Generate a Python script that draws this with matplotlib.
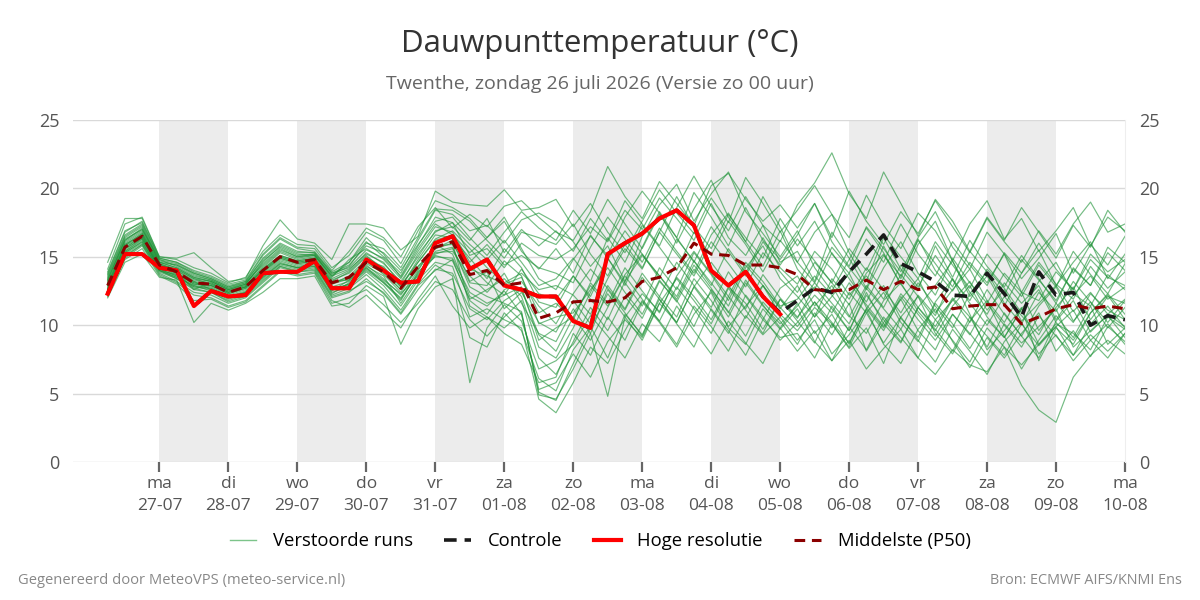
"""
plot.py

Dauwpunttemperatuur ensemble pluim voor Twenthe (ECMWF AIFS/KNMI Ens).
"""

import matplotlib
matplotlib.use("Agg")
import matplotlib.pyplot as plt
import pandas as pd

plt.rcParams["font.family"] = ["Open Sans", "DejaVu Sans"]

# Time axis: 6-hourly steps, first step 26-07 06:00
RUN_START = "2026-07-26 06:00"
N_STEPS = 60

# Hoge resolutie (ends on 05-08 00:00)
hres = [12.3, 15.2, 15.2, 14.2, 14.0, 11.4, 12.5, 12.1, 12.2, 13.8, 13.9, 13.9, 14.7,
        12.7, 12.7, 14.8, 14.0, 13.1, 13.2, 16.0, 16.5, 14.1, 14.8, 12.9, 12.6, 12.1, 12.1,
        10.3, 9.8, 15.2, 16.0, 16.7, 17.8, 18.4, 17.3, 14.0, 12.9, 13.9, 12.1, 10.8]

# Controle
control = [12.3, 15.2, 15.2, 14.2, 14.0, 11.4, 12.5, 12.1, 12.2, 13.8, 13.9, 13.9, 14.7,
           12.7, 12.7, 14.8, 14.0, 13.1, 13.2, 16.0, 16.5, 14.1, 14.8, 12.9, 12.6, 12.1, 12.1,
           10.3, 9.8, 15.2, 16.0, 16.7, 17.8, 18.4, 17.3, 14.0, 12.9, 13.9, 12.1, 10.9,
           11.8, 12.7, 12.4, 13.9, 15.2, 16.6, 14.5, 13.9, 13.2, 12.2, 12.1, 13.8, 12.3,
           10.6, 13.9, 12.2, 12.4, 10.0, 10.7, 10.4]

# Middelste (P50)
p50 = [12.9, 15.7, 16.5, 14.4, 13.9, 13.1, 13.0, 12.4, 12.8, 14.0, 15.0, 14.6, 14.8,
       13.1, 13.5, 14.6, 13.9, 12.7, 14.3, 15.7, 16.1, 13.7, 14.0, 12.9, 13.1, 10.5, 10.9,
       11.7, 11.8, 11.7, 12.0, 13.2, 13.5, 14.2, 16.0, 15.2, 15.1, 14.4, 14.4, 14.2,
       13.7, 12.6, 12.5, 12.6, 13.3, 12.6, 13.2, 12.6, 12.8, 11.2, 11.4, 11.5, 11.5,
       10.1, 10.6, 11.2, 11.5, 11.2, 11.4, 11.2]

# Verstoorde runs (ensemble members)
members = [
    [13.4, 16.2, 17.1, 14.6, 14.2, 13.5, 13.2, 12.6, 13.0, 14.6, 15.8, 15.2, 15.1,
     13.6, 14.1, 15.2, 14.6, 13.0, 15.2, 16.8, 17.5, 15.1, 15.6, 14.2, 16.0, 15.1, 14.8,
     15.6, 17.2, 16.1, 18.4, 17.0, 19.3, 17.8, 16.2, 18.9, 16.4, 15.1, 17.3, 14.6,
     15.4, 13.2, 16.8, 14.9, 12.7, 15.8, 13.4, 16.3, 14.0, 12.5, 14.6, 13.1, 15.2, 12.4, 11.8, 13.9, 12.6, 14.8, 13.5, 12.9],
    [12.5, 15.4, 16.2, 14.1, 13.6, 12.8, 12.7, 12.1, 12.5, 13.6, 14.6, 14.2, 14.5,
     12.6, 13.0, 14.1, 13.2, 11.9, 13.8, 15.4, 15.7, 12.8, 12.1, 11.6, 11.0, 4.9, 4.6,
     6.8, 9.4, 4.8, 10.6, 12.3, 11.0, 13.5, 12.1, 10.4, 12.8, 11.6, 9.7, 11.9,
     10.5, 12.8, 11.2, 9.6, 12.4, 10.1, 8.7, 11.3, 9.9, 12.0, 10.6, 8.4, 10.9, 9.2, 7.6, 10.3, 11.8, 9.5, 10.8, 9.9],
    [13.8, 16.8, 17.6, 14.9, 14.6, 13.9, 13.5, 12.9, 13.2, 15.1, 16.3, 15.6, 15.4,
     13.9, 14.6, 16.1, 15.0, 13.8, 16.2, 18.4, 18.1, 16.9, 17.3, 16.0, 17.7, 18.2, 17.5,
     16.1, 14.3, 15.8, 13.2, 16.5, 18.8, 20.3, 17.6, 19.6, 21.2, 18.3, 16.7, 15.0,
     16.9, 14.2, 12.5, 14.8, 17.1, 15.3, 13.0, 15.9, 17.6, 14.7, 12.1, 13.6, 11.4, 13.8, 15.5, 12.9, 14.6, 16.1, 13.4, 15.2],
    [12.3, 15.0, 15.9, 13.8, 13.2, 12.4, 12.2, 11.6, 12.0, 13.1, 14.2, 13.9, 14.0,
     12.0, 12.4, 13.4, 12.3, 10.8, 12.6, 14.1, 13.8, 11.2, 10.4, 11.8, 12.6, 9.3, 8.1,
     10.6, 12.9, 11.4, 13.7, 15.2, 13.6, 11.9, 14.4, 12.7, 10.9, 13.3, 11.5, 9.8,
     11.6, 9.4, 10.8, 8.6, 11.2, 12.9, 10.5, 9.1, 11.7, 13.4, 10.8, 8.2, 9.6, 11.3, 7.4, 9.8, 8.6, 10.9, 12.2, 10.4],
    [14.1, 17.4, 17.9, 15.0, 14.8, 14.2, 13.8, 13.1, 13.5, 15.4, 16.6, 15.9, 15.8,
     14.2, 15.1, 16.8, 16.2, 14.5, 16.9, 19.1, 18.6, 17.8, 16.4, 17.9, 15.6, 13.4, 12.6,
     14.8, 16.5, 15.1, 17.9, 19.8, 18.2, 16.0, 18.5, 20.6, 17.9, 16.1, 19.4, 17.2,
     14.6, 16.8, 18.1, 15.3, 13.2, 16.4, 14.1, 12.6, 15.8, 13.5, 16.2, 14.3, 12.8, 15.1, 13.4, 11.6, 14.2, 12.9, 15.7, 14.6],
    [12.6, 15.5, 16.4, 14.2, 13.8, 13.0, 12.9, 12.3, 12.7, 13.8, 14.8, 14.4, 14.6,
     12.8, 13.2, 14.4, 13.4, 12.2, 14.0, 15.9, 15.2, 12.1, 11.4, 12.5, 10.8, 5.3, 5.8,
     7.9, 6.2, 8.8, 10.4, 9.1, 11.6, 10.2, 12.8, 11.1, 9.4, 12.2, 10.6, 8.9,
     10.2, 11.7, 9.8, 12.4, 10.9, 8.7, 10.6, 12.1, 9.4, 7.9, 10.3, 11.8, 9.2, 6.8, 8.9, 10.7, 9.1, 11.4, 8.6, 9.8],
    [13.1, 16.0, 16.8, 14.5, 14.0, 13.3, 13.1, 12.5, 12.9, 14.2, 15.3, 14.8, 15.0,
     13.3, 13.8, 15.0, 14.2, 12.9, 14.6, 16.3, 16.9, 15.6, 14.2, 13.1, 13.8, 12.6, 12.9,
     12.2, 10.8, 13.4, 15.6, 14.1, 16.8, 15.2, 13.6, 16.1, 14.5, 12.8, 15.3, 13.9,
     12.4, 14.6, 13.1, 11.5, 13.8, 15.2, 13.0, 11.3, 12.9, 14.7, 12.4, 10.8, 13.1, 11.6, 12.9, 10.4, 12.2, 13.6, 11.9, 12.8],
    [12.2, 14.8, 15.6, 13.6, 13.0, 11.8, 11.9, 11.3, 11.7, 12.8, 13.9, 13.6, 13.8,
     11.6, 12.0, 12.6, 11.5, 10.2, 11.6, 13.2, 12.6, 10.4, 9.2, 10.6, 11.8, 7.6, 6.4,
     8.8, 11.3, 9.6, 12.1, 10.5, 13.2, 11.8, 9.9, 12.6, 11.0, 9.2, 11.7, 10.3,
     8.6, 10.9, 9.3, 11.6, 8.1, 10.2, 11.9, 9.6, 8.2, 10.8, 9.4, 7.8, 10.1, 8.7, 9.9, 11.2, 8.4, 9.6, 10.7, 9.1],
    [13.6, 16.5, 17.3, 14.7, 14.4, 13.8, 13.4, 12.8, 13.1, 14.9, 16.0, 15.4, 15.3,
     13.8, 14.4, 15.8, 15.3, 14.0, 15.9, 17.6, 17.9, 16.4, 15.1, 16.8, 18.3, 17.1, 16.2,
     18.4, 16.7, 19.2, 17.4, 15.6, 18.1, 16.4, 19.7, 17.9, 15.8, 18.6, 16.2, 14.8,
     16.6, 18.9, 16.1, 14.3, 17.2, 15.6, 13.9, 16.4, 18.3, 15.7, 14.1, 16.8, 15.2, 13.4, 14.9, 16.7, 13.8, 15.9, 14.4, 16.5],
    [12.8, 15.6, 16.6, 14.3, 13.9, 12.6, 13.1, 12.4, 12.8, 14.1, 15.1, 14.7, 14.9,
     13.0, 13.6, 14.8, 13.7, 12.4, 14.3, 15.6, 16.2, 13.2, 13.9, 11.2, 12.4, 10.2, 9.5,
     11.8, 10.1, 12.9, 11.2, 13.8, 12.1, 14.6, 12.9, 11.3, 13.9, 12.1, 10.4, 12.7,
     13.6, 11.4, 12.9, 10.7, 9.4, 11.8, 13.1, 11.0, 9.6, 11.9, 10.2, 12.6, 10.8, 9.2, 11.4, 12.8, 10.3, 11.7, 9.8, 11.3],
    [12.0, 14.6, 15.2, 13.5, 13.3, 10.2, 11.6, 11.1, 11.6, 12.4, 13.4, 13.4, 13.6,
     11.4, 11.6, 12.9, 12.1, 8.6, 11.2, 12.8, 13.4, 9.1, 8.4, 10.9, 9.6, 6.1, 5.2,
     8.2, 9.9, 7.6, 10.8, 9.3, 11.9, 10.1, 8.4, 11.2, 9.6, 7.8, 10.4, 9.1,
     9.4, 7.6, 10.1, 8.3, 9.8, 7.2, 10.6, 8.9, 7.3, 9.7, 8.1, 6.4, 8.8, 10.2, 7.9, 9.3, 7.4, 8.9, 10.1, 8.6],
    [14.6, 17.8, 17.8, 15.0, 14.9, 15.3, 14.2, 13.2, 13.4, 15.8, 17.7, 16.3, 16.0,
     14.8, 17.4, 17.4, 17.1, 15.5, 16.5, 19.8, 19.0, 18.8, 18.7, 19.9, 18.4, 18.6, 19.2,
     17.2, 18.9, 16.8, 15.3, 17.6, 19.9, 18.2, 16.7, 19.3, 17.5, 20.8, 18.9, 16.8,
     18.4, 20.2, 18.1, 16.4, 19.5, 17.3, 15.6, 18.2, 16.9, 14.7, 17.4, 19.1, 16.3, 17.8, 15.4, 16.9, 18.6, 15.8, 17.9, 16.9],
    [12.7, 15.9, 16.6, 14.0, 13.7, 13.2, 12.6, 12.0, 12.4, 13.9, 14.9, 14.5, 14.7,
     12.3, 13.1, 14.3, 13.6, 11.6, 13.5, 15.1, 14.7, 11.9, 12.6, 13.4, 12.1, 8.4, 7.6,
     9.8, 12.4, 14.9, 13.1, 11.4, 14.2, 12.6, 15.3, 13.7, 11.8, 14.4, 12.9, 11.2,
     12.9, 10.6, 12.1, 13.8, 11.3, 9.8, 11.9, 13.4, 10.9, 12.6, 14.1, 11.8, 10.2, 12.4, 9.6, 11.3, 12.8, 10.4, 12.1, 11.6],
    [13.3, 16.3, 17.0, 14.8, 14.3, 13.6, 13.3, 12.7, 13.1, 14.4, 15.5, 15.0, 15.2,
     13.5, 14.8, 15.6, 14.8, 13.4, 15.4, 17.2, 16.8, 14.6, 15.9, 14.4, 15.1, 14.2, 13.8,
     13.1, 15.7, 17.9, 16.3, 14.6, 17.1, 15.4, 13.8, 16.6, 18.2, 16.1, 14.3, 16.9,
     14.1, 12.6, 15.3, 13.4, 11.7, 14.2, 16.1, 13.8, 12.2, 14.9, 13.1, 11.6, 13.8, 12.4, 14.6, 13.0, 11.9, 14.3, 12.7, 13.9],
    [12.4, 15.2, 16.0, 14.0, 13.5, 12.9, 12.5, 11.9, 12.3, 13.4, 14.4, 14.1, 14.3,
     12.4, 12.8, 13.9, 12.9, 11.4, 13.3, 14.6, 14.3, 10.6, 11.2, 10.4, 9.8, 4.6, 3.6,
     5.8, 8.4, 7.2, 9.6, 11.8, 10.3, 8.6, 11.4, 9.9, 8.1, 10.7, 9.3, 10.6,
     8.9, 10.4, 7.9, 9.3, 11.1, 8.6, 7.2, 9.7, 11.2, 8.8, 6.9, 9.1, 7.6, 9.4, 10.9, 8.1, 9.6, 7.7, 9.9, 8.8],
    [13.0, 15.8, 16.7, 14.4, 14.1, 13.4, 13.0, 12.4, 12.8, 14.0, 15.0, 14.6, 14.8,
     13.2, 13.3, 14.7, 14.3, 12.8, 14.8, 16.6, 16.4, 14.9, 13.4, 15.6, 14.2, 11.7, 11.3,
     13.6, 12.1, 14.8, 16.9, 15.2, 13.4, 16.3, 14.7, 12.9, 15.6, 13.8, 16.4, 14.2,
     13.0, 15.4, 14.1, 12.2, 13.6, 11.9, 14.4, 12.8, 15.1, 13.3, 11.8, 14.1, 12.7, 10.9, 13.2, 14.6, 12.3, 11.4, 13.7, 12.6],
    [12.1, 14.9, 15.8, 13.7, 13.1, 12.2, 12.0, 11.4, 11.8, 12.9, 14.0, 13.7, 13.9,
     11.8, 11.3, 12.2, 11.0, 9.8, 11.9, 13.6, 11.4, 9.8, 10.6, 9.4, 8.6, 5.8, 6.2,
     9.4, 7.8, 10.6, 8.9, 11.7, 10.2, 8.4, 10.8, 12.4, 9.8, 8.6, 11.2, 9.7,
     11.2, 8.8, 7.4, 9.9, 8.2, 10.6, 9.1, 7.6, 10.4, 8.9, 7.3, 9.8, 8.4, 7.1, 8.6, 9.9, 7.8, 9.3, 8.1, 9.4],
    [13.5, 16.4, 17.2, 14.6, 14.4, 13.7, 13.3, 12.7, 13.0, 14.7, 15.7, 15.1, 15.2,
     13.7, 14.3, 16.0, 15.6, 14.2, 16.4, 18.5, 18.4, 17.6, 16.2, 14.9, 16.8, 16.4, 15.9,
     17.4, 15.2, 13.6, 15.9, 14.2, 16.8, 19.4, 17.2, 15.6, 18.1, 16.4, 14.9, 17.8,
     15.8, 17.6, 15.2, 13.8, 16.3, 14.6, 17.4, 15.2, 13.6, 16.1, 14.4, 12.9, 15.3, 13.8, 16.0, 14.1, 12.6, 15.2, 13.9, 14.8],
    [12.9, 15.7, 16.4, 14.3, 13.8, 13.1, 12.9, 12.3, 12.7, 13.9, 14.9, 14.5, 14.7,
     13.0, 13.4, 14.5, 13.8, 12.6, 14.1, 15.8, 15.9, 14.1, 13.6, 13.0, 13.5, 10.9, 11.6,
     10.4, 13.1, 11.6, 14.2, 12.5, 10.9, 13.6, 15.4, 13.8, 12.1, 14.6, 13.2, 11.4,
     11.9, 13.6, 12.2, 10.6, 12.9, 11.3, 13.7, 12.1, 10.4, 11.8, 13.2, 11.1, 12.6, 10.3, 11.6, 12.9, 11.0, 12.4, 10.8, 11.9],
    [13.2, 16.1, 16.9, 14.5, 14.1, 13.4, 13.2, 12.6, 12.9, 14.3, 15.4, 14.9, 15.1,
     13.4, 14.0, 15.3, 14.5, 13.2, 15.0, 16.9, 17.2, 15.9, 14.8, 16.2, 14.6, 12.9, 13.4,
     14.9, 13.2, 16.4, 14.6, 17.3, 15.7, 14.0, 16.8, 15.1, 17.6, 15.9, 13.9, 16.2,
     14.6, 13.1, 15.7, 14.2, 12.6, 15.1, 13.6, 16.2, 14.5, 12.8, 15.4, 13.9, 12.2, 14.8, 13.3, 11.8, 14.1, 12.9, 15.3, 14.0],
    [12.5, 15.3, 16.1, 14.0, 13.4, 12.7, 12.4, 11.8, 12.2, 13.3, 14.3, 14.0, 14.2,
     12.2, 12.7, 13.7, 12.6, 11.1, 13.0, 14.4, 13.6, 5.8, 9.8, 11.5, 10.3, 6.8, 7.4,
     8.6, 10.7, 9.2, 7.6, 10.1, 8.8, 11.4, 9.6, 7.9, 10.3, 8.7, 7.2, 9.8,
     8.1, 9.6, 7.4, 8.9, 6.8, 8.3, 9.7, 7.6, 6.4, 8.2, 7.1, 6.6, 8.4, 5.6, 3.8, 2.9, 6.2, 7.8, 8.9, 7.9],
    [13.7, 16.6, 17.4, 14.8, 14.5, 13.8, 13.4, 12.8, 13.2, 14.8, 15.9, 15.3, 15.3,
     13.8, 14.2, 15.5, 14.9, 13.6, 15.8, 17.9, 17.5, 16.2, 17.8, 15.3, 17.0, 15.8, 16.9,
     15.4, 17.8, 16.2, 19.1, 17.4, 15.8, 18.6, 20.9, 18.7, 16.9, 19.4, 17.3, 16.1,
     18.8, 20.4, 22.6, 19.6, 17.8, 21.2, 18.9, 16.5, 19.2, 17.6, 15.4, 17.9, 16.2, 18.6, 16.8, 14.9, 17.3, 15.7, 18.4, 16.8],
    [12.6, 15.6, 16.3, 14.2, 13.7, 13.0, 12.8, 12.2, 12.6, 13.7, 14.7, 14.3, 14.5,
     12.7, 12.9, 14.2, 13.1, 12.0, 13.7, 15.3, 15.4, 13.6, 12.4, 13.8, 11.6, 9.4, 8.8,
     11.2, 9.4, 12.6, 10.9, 9.2, 12.1, 10.6, 13.4, 11.8, 9.9, 11.4, 12.9, 10.8,
     9.6, 11.3, 10.1, 8.4, 10.9, 12.4, 10.2, 8.8, 11.6, 10.1, 8.3, 10.4, 9.1, 11.2, 8.6, 10.1, 9.4, 8.2, 10.6, 9.7],
    [13.9, 16.9, 17.5, 14.9, 14.6, 14.0, 13.6, 13.0, 13.3, 15.2, 16.4, 15.7, 15.6,
     14.0, 15.4, 17.1, 16.4, 15.0, 17.2, 18.6, 17.1, 18.1, 17.2, 18.7, 19.1, 17.9, 16.8,
     16.2, 18.3, 21.6, 19.4, 17.8, 20.5, 18.9, 17.3, 20.2, 21.1, 19.2, 17.6, 18.8,
     17.1, 18.9, 16.4, 19.8, 17.6, 15.9, 18.3, 16.7, 19.1, 17.2, 15.3, 17.8, 16.1, 14.6, 16.9, 15.2, 17.4, 19.0, 16.8, 17.4],
    [12.3, 15.1, 15.9, 13.9, 13.4, 12.6, 12.4, 11.7, 12.1, 13.2, 14.3, 13.9, 14.1,
     12.1, 12.5, 13.2, 12.4, 10.9, 12.9, 14.0, 14.8, 11.8, 10.8, 12.6, 13.2, 11.4, 10.1,
     12.3, 14.1, 12.7, 11.1, 13.5, 11.9, 10.2, 12.8, 14.6, 12.9, 11.2, 13.7, 12.0,
     10.6, 12.2, 10.9, 13.1, 11.5, 9.9, 12.3, 10.8, 9.2, 11.4, 12.9, 10.6, 9.1, 11.2, 12.6, 10.2, 8.9, 10.9, 12.3, 10.8],
    [12.9, 15.8, 16.5, 14.3, 13.9, 13.1, 12.9, 12.4, 12.8, 14.0, 15.0, 14.6, 14.8,
     13.1, 13.5, 14.6, 13.9, 12.6, 14.3, 15.6, 16.0, 11.4, 10.6, 9.8, 10.9, 5.1, 4.5,
     7.2, 9.8, 12.3, 10.6, 8.9, 11.6, 13.4, 11.8, 10.1, 12.7, 11.1, 9.4, 11.9,
     10.3, 8.7, 11.4, 9.6, 12.2, 10.4, 8.8, 11.3, 9.7, 8.1, 10.6, 9.2, 7.8, 10.1, 8.5, 9.9, 11.1, 8.9, 7.6, 9.4],
    [13.3, 16.2, 17.0, 14.6, 14.2, 13.5, 13.2, 12.6, 13.0, 14.5, 15.6, 15.0, 15.1,
     13.6, 14.6, 16.4, 15.2, 13.5, 15.6, 17.4, 16.6, 15.3, 16.4, 17.6, 15.4, 14.1, 15.6,
     13.8, 16.6, 14.9, 12.9, 15.7, 18.3, 16.4, 14.6, 17.2, 15.4, 13.6, 16.1, 14.4,
     16.3, 14.7, 13.1, 15.6, 14.0, 16.6, 15.0, 13.4, 16.1, 14.4, 12.7, 15.2, 13.6, 12.1, 14.4, 12.8, 15.4, 13.7, 12.3, 14.5],
    [12.7, 15.4, 16.3, 14.1, 13.6, 12.9, 12.7, 12.1, 12.4, 13.5, 14.5, 14.2, 14.4,
     12.5, 13.3, 14.2, 13.3, 12.3, 13.6, 15.2, 15.6, 13.1, 12.9, 14.7, 13.6, 10.1, 10.6,
     10.9, 12.6, 14.2, 12.4, 10.8, 13.3, 11.7, 14.1, 12.5, 10.6, 13.1, 11.4, 10.1,
     11.4, 13.1, 11.6, 10.1, 12.7, 11.2, 9.7, 12.2, 10.7, 13.4, 11.6, 10.0, 12.1, 10.7, 9.3, 11.6, 10.2, 12.3, 11.1, 10.4],
    [13.0, 15.9, 16.7, 14.4, 14.0, 13.2, 13.0, 12.5, 12.8, 14.1, 15.1, 14.7, 14.9,
     13.2, 13.9, 15.1, 14.0, 12.8, 14.6, 16.2, 16.6, 14.4, 13.1, 12.2, 14.1, 12.3, 11.9,
     13.6, 11.9, 10.4, 13.2, 15.1, 13.6, 12.1, 14.7, 13.1, 11.4, 14.2, 15.8, 13.4,
     12.1, 10.6, 13.4, 11.9, 14.2, 12.6, 10.9, 13.1, 11.4, 9.8, 12.3, 13.9, 11.6, 10.1, 12.4, 11.0, 13.2, 11.7, 10.2, 11.8],
    [12.4, 15.3, 16.1, 14.0, 13.5, 12.8, 12.6, 12.0, 12.4, 13.5, 14.5, 14.2, 14.3,
     12.6, 13.0, 14.0, 13.1, 11.8, 13.9, 15.0, 14.9, 12.4, 11.6, 12.2, 12.8, 8.9, 9.8,
     10.6, 8.9, 11.3, 13.6, 11.9, 10.3, 12.8, 11.2, 9.4, 12.1, 10.5, 12.9, 11.3,
     9.9, 11.7, 10.2, 8.7, 11.2, 9.6, 12.1, 10.4, 8.9, 10.8, 9.3, 11.6, 10.0, 8.4, 10.7, 9.2, 7.8, 10.1, 11.4, 9.8],
]

# Axis labels
day_names = ["ma", "di", "wo", "do", "vr", "za", "zo", "ma", "di", "wo", "do", "vr", "za", "zo", "ma"]
day_dates = ["27-07", "28-07", "29-07", "30-07", "31-07", "01-08", "02-08", "03-08",
             "04-08", "05-08", "06-08", "07-08", "08-08", "09-08", "10-08"]
shaded_days = ["2026-07-27", "2026-07-29", "2026-07-31", "2026-08-02",
               "2026-08-04", "2026-08-06", "2026-08-08"]
y_ticks = [0, 5, 10, 15, 20, 25]


def main():
    times = pd.date_range(RUN_START, periods=N_STEPS, freq="6h")
    tick_days = pd.date_range("2026-07-27", periods=len(day_names), freq="D")

    fig = plt.figure(figsize=(12, 6), dpi=100)
    ax = fig.add_axes([0.061, 0.23, 0.8765, 0.57])

    # Shaded alternate days
    for d in shaded_days:
        start = pd.Timestamp(d)
        ax.axvspan(start, start + pd.Timedelta(days=1), color="#ececec", zorder=0, lw=0)

    # Ensemble members
    for i, run in enumerate(members):
        ax.plot(times, run, color="#1f9338", lw=0.85, alpha=0.62, zorder=2,
                label="Verstoorde runs" if i == 0 else None)

    ax.plot(times, control, color="#1a1a1a", lw=2.6, ls=(0, (3.5, 2.2)), zorder=3, label="Controle")
    ax.plot(times[:len(hres)], hres, color="#ff0000", lw=3, zorder=4, label="Hoge resolutie")
    ax.plot(times, p50, color="#8b0000", lw=2.2, ls=(0, (3.5, 2.2)), zorder=5, label="Middelste (P50)")

    ax.set_xlim(pd.Timestamp("2026-07-25 18:00"), pd.Timestamp("2026-08-10 00:00"))
    ax.set_ylim(0, 25)

    ax.set_xticks(tick_days)
    ax.set_xticklabels([f"{n}\n{d}" for n, d in zip(day_names, day_dates)], linespacing=1.55)
    ax.set_yticks(y_ticks)
    ax.grid(axis="y", color="#d9d9d9", lw=1, zorder=1)
    ax.set_axisbelow(True)

    for side in ["top", "left", "bottom"]:
        ax.spines[side].set_visible(False)
    ax.spines["right"].set_color("#eeeeee")

    ax.tick_params(axis="x", length=7, width=1.6, color="#666666", labelsize=12.5,
                   labelcolor="#555555", pad=3)
    ax.tick_params(axis="y", length=0, labelsize=13, labelcolor="#555555",
                   labelleft=True, labelright=True, pad=10)

    fig.text(0.5, 0.927, "Dauwpunttemperatuur (°C)", ha="center", va="center",
             fontsize=22.5, color="#333333")
    fig.text(0.5, 0.86, "Twenthe, zondag 26 juli 2026 (Versie zo 00 uur)", ha="center",
             va="center", fontsize=14, color="#666666")

    handles, labels = ax.get_legend_handles_labels()
    leg = fig.legend(handles, labels, loc="center", bbox_to_anchor=(0.5, 0.098), ncol=4,
                     frameon=False, fontsize=13.3, handlelength=1.45, handletextpad=0.9,
                     columnspacing=1.7)
    for line in leg.get_lines():
        line.set_alpha(1.0)
    leg.get_lines()[0].set_color("#7cc48a")
    leg.get_lines()[0].set_linewidth(1.0)

    fig.text(0.015, 0.033, "Gegenereerd door MeteoVPS (meteo-service.nl)", ha="left",
             va="center", fontsize=10.6, color="#888888")
    fig.text(0.985, 0.033, "Bron: ECMWF AIFS/KNMI Ens", ha="right", va="center",
             fontsize=10.4, color="#888888")

    fig.savefig("out.png", dpi=100)
    plt.close(fig)


if __name__ == "__main__":
    main()
